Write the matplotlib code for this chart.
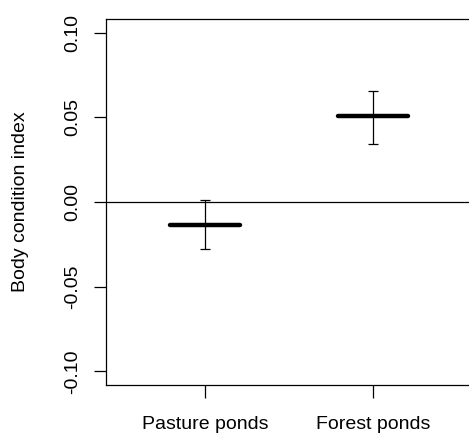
import matplotlib
matplotlib.use("Agg")
import matplotlib.pyplot as plt

# data ---------------------------------------------
groups = ["Pasture ponds", "Forest ponds"]
xpos = [1, 2]
means = [-0.0134, 0.0505]
upper = [0.0014, 0.0656]
lower = [-0.0280, 0.0343]
yticks = [-0.10, -0.05, 0.00, 0.05, 0.10]
# --------------------------------------------------

plt.rcParams['font.family'] = ['Liberation Sans', 'DejaVu Sans']
plt.rcParams['font.size'] = 14

fig = plt.figure(figsize=(4.69, 4.36), dpi=100)
ax = fig.add_axes([106/469, 51/436, 366/469, 366/436])

half = 0.206
for x, m, u, l in zip(xpos, means, upper, lower):
    ax.plot([x - half, x + half], [m, m], color='black', lw=3.2, solid_capstyle='round')
    ax.errorbar([x], [m], yerr=[[m - l], [u - m]], fmt='none', ecolor='black',
                elinewidth=0.9, capsize=3.5, capthick=0.9)

ax.axhline(0, color='black', lw=0.9)

ax.set_xlim(0.412, 2.588)
ax.set_ylim(-0.108, 0.108)
ax.set_xticks(xpos)
ax.set_xticklabels(groups)
ax.set_yticks(yticks)
ax.set_yticklabels(['%.2f' % v for v in yticks], rotation=90, va='center')
ax.tick_params(length=9, width=0.9)
ax.tick_params(axis='x', pad=13)
ax.tick_params(axis='y', pad=9)
ax.set_ylabel("Body condition index", labelpad=25)
for s in ax.spines.values():
    s.set_linewidth(0.9)

fig.savefig("out.png", dpi=100)
